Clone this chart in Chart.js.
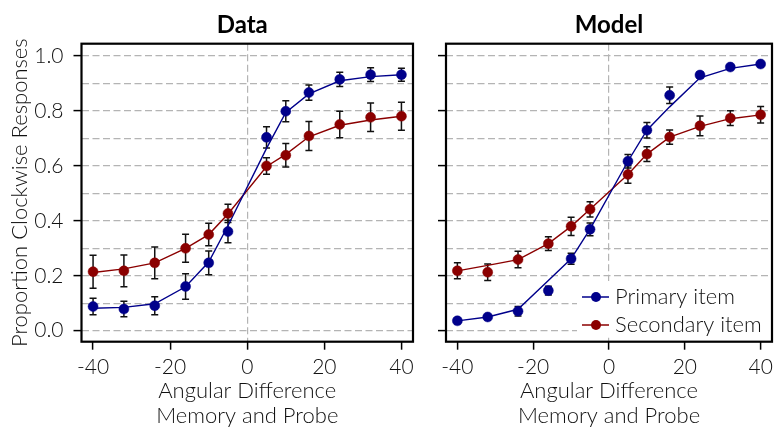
<!DOCTYPE html>
<html>
<head>
<meta charset="utf-8">
<script src="https://cdn.jsdelivr.net/npm/chart.js@4.4.1/dist/chart.umd.min.js"></script>
<style>
  body { margin: 0; background: #fff; }
  #wrap { position: relative; width: 778px; height: 435px; overflow: hidden; }
  #wrap canvas { position: absolute; top: 0; }
  #cData { left: 0; }
  #cModel { left: 420px; }
</style>
</head>
<body>
<div id="wrap">
  <canvas id="cData" width="420" height="435"></canvas>
  <canvas id="cModel" width="358" height="435"></canvas>
</div>
<script>
// angular difference between memory and probe (deg)
const angles = [-40, -32, -24, -16, -10, -5, 5, 10, 16, 24, 32, 40];
const xTicks = [-40, -20, 0, 20, 40];
const yTicks = [0, 0.1, 0.2, 0.3, 0.4, 0.5, 0.6, 0.7, 0.8, 0.9, 1.0];

// observed data
const dataPrimary = [0.088, 0.079, 0.091, 0.161, 0.247, 0.361, 0.704, 0.799, 0.867, 0.915, 0.932, 0.932];
const dataPrimaryErr = [0.030, 0.028, 0.033, 0.046, 0.043, 0.041, 0.039, 0.038, 0.028, 0.026, 0.025, 0.024];
const dataPrimaryFit = [0.082, 0.085, 0.098, 0.160, 0.250, 0.382, 0.664, 0.795, 0.862, 0.910, 0.925, 0.932];
const dataSecondary = [0.215, 0.218, 0.247, 0.300, 0.350, 0.427, 0.600, 0.639, 0.709, 0.751, 0.777, 0.781];
const dataSecondaryErr = [0.060, 0.058, 0.058, 0.051, 0.041, 0.033, 0.030, 0.043, 0.053, 0.048, 0.052, 0.051];
const dataSecondaryFit = [0.212, 0.225, 0.247, 0.300, 0.350, 0.425, 0.598, 0.642, 0.706, 0.748, 0.767, 0.781];

// model simulation
const modelPrimary = [0.036, 0.050, 0.071, 0.146, 0.262, 0.369, 0.617, 0.730, 0.857, 0.931, 0.960, 0.971];
const modelPrimaryErr = [0.005, 0.005, 0.017, 0.016, 0.020, 0.023, 0.025, 0.028, 0.030, 0.011, 0.008, 0.006];
const modelPrimaryFit = [0.036, 0.050, 0.078, 0.183, 0.262, 0.370, 0.617, 0.730, 0.815, 0.921, 0.955, 0.971];
const modelSecondary = [0.218, 0.213, 0.259, 0.317, 0.380, 0.442, 0.569, 0.643, 0.705, 0.746, 0.774, 0.786];
const modelSecondaryErr = [0.029, 0.030, 0.030, 0.025, 0.033, 0.028, 0.032, 0.027, 0.026, 0.036, 0.027, 0.030];
const modelSecondaryFit = [0.218, 0.238, 0.259, 0.317, 0.380, 0.442, 0.569, 0.643, 0.705, 0.744, 0.772, 0.786];

const seriesNames = ["Primary item", "Secondary item"];

const BLUE = "#00008b";
const RED = "#8b0000";
const GRID = "#b4b4b4";
const TEXT = "#111";
const FONT = "Lato";

function pts(ys) {
  return angles.map((x, i) => ({ x: x, y: ys[i] }));
}

// error bars, drawn under the markers
const errorBars = {
  id: "errorBars",
  beforeDatasetsDraw(chart) {
    const ctx = chart.ctx;
    const xs = chart.scales.x, ys = chart.scales.y;
    ctx.save();
    ctx.strokeStyle = "#111";
    ctx.lineWidth = 1.5;
    chart.data.datasets.forEach((ds) => {
      if (!ds.errors) return;
      ds.data.forEach((p, i) => {
        const e = ds.errors[i];
        const x = xs.getPixelForValue(p.x);
        const y1 = ys.getPixelForValue(p.y - e);
        const y2 = ys.getPixelForValue(p.y + e);
        ctx.beginPath();
        ctx.moveTo(x, y1); ctx.lineTo(x, y2);
        ctx.moveTo(x - 3.5, y1); ctx.lineTo(x + 3.5, y1);
        ctx.moveTo(x - 3.5, y2); ctx.lineTo(x + 3.5, y2);
        ctx.stroke();
      });
    });
    ctx.restore();
  },
};

// box round the plot + panel title
const frame = {
  id: "frame",
  afterDraw(chart, args, opts) {
    const { left, top, right, bottom } = chart.chartArea;
    const ctx = chart.ctx;
    ctx.save();
    ctx.strokeStyle = "#000";
    ctx.lineWidth = 2.2;
    ctx.strokeRect(left, top, right - left, bottom - top);
    ctx.fillStyle = "#000";
    ctx.font = "bold 24px " + FONT;
    ctx.textAlign = "center";
    ctx.textBaseline = "alphabetic";
    ctx.fillText(opts.text, (left + right) / 2 + (opts.shift || 0), 33);
    ctx.restore();
  },
};

// matplotlib-like legend: line with marker
const lineLegend = {
  id: "lineLegend",
  afterDatasetsDraw(chart, args, opts) {
    if (!opts.show) return;
    const ctx = chart.ctx;
    const ox = opts.x, oy = opts.y;
    ctx.save();
    ctx.fillStyle = "#fff";
    ctx.fillRect(ox, oy, 200, 56);
    [BLUE, RED].forEach((c, i) => {
      const cy = oy + 16 + i * 28;
      ctx.strokeStyle = c;
      ctx.lineWidth = 1.5;
      ctx.beginPath();
      ctx.moveTo(ox + 5, cy); ctx.lineTo(ox + 32, cy);
      ctx.stroke();
      ctx.fillStyle = c;
      ctx.beginPath();
      ctx.arc(ox + 19, cy, 5, 0, Math.PI * 2);
      ctx.fill();
      ctx.fillStyle = TEXT;
      ctx.font = "300 22px " + FONT;
      ctx.textAlign = "left";
      ctx.textBaseline = "middle";
      ctx.fillText(seriesNames[i], ox + 38, cy);
    });
    ctx.restore();
  },
};

function makeChart(id, p) {
  return new Chart(document.getElementById(id), {
    type: "line",
    data: {
      datasets: [
        { label: seriesNames[0], data: pts(p.primary), errors: p.primaryErr, showLine: false,
          pointRadius: 5, pointBackgroundColor: BLUE, pointBorderColor: BLUE, pointBorderWidth: 0.5 },
        { label: seriesNames[1], data: pts(p.secondary), errors: p.secondaryErr, showLine: false,
          pointRadius: 5, pointBackgroundColor: RED, pointBorderColor: RED, pointBorderWidth: 0.5 },
        { data: pts(p.primaryFit), borderColor: BLUE, borderWidth: 1.4, pointRadius: 0, tension: 0 },
        { data: pts(p.secondaryFit), borderColor: RED, borderWidth: 1.4, pointRadius: 0, tension: 0 },
      ],
    },
    options: {
      responsive: false,
      animation: false,
      events: [],
      layout: { padding: { top: 43.7, right: p.padRight, bottom: 0, left: 0 } },
      plugins: {
        legend: { display: false },
        tooltip: { enabled: false },
        frame: { text: p.title, shift: p.titleShift },
        lineLegend: { show: p.legend, x: 157, y: 281 },
      },
      scales: {
        x: {
          type: "linear",
          min: -43,
          max: 43,
          afterBuildTicks: (s) => { s.ticks = xTicks.map((v) => ({ value: v })); },
          afterFit: (s) => { s.height = 93.3; },
          grid: {
            color: (c) => (c.tick && c.tick.value === 0 ? GRID : "transparent"),
            lineWidth: 1.2,
            tickColor: "#000",
            tickWidth: 1.5,
            tickLength: 8,
          },
          border: { display: false, dash: [7, 3.5] },
          ticks: {
            color: TEXT,
            font: { family: FONT, size: 21, weight: 300 },
            padding: 5,
            maxRotation: 0,
            callback: (v) => String(v),
          },
          title: {
            display: true,
            text: ["Angular Difference", "Memory and Probe"],
            color: TEXT,
            font: { family: FONT, size: 22, weight: 300, lineHeight: 1.15 },
            padding: { top: 0, bottom: 6 },
          },
        },
        y: {
          min: -0.04,
          max: 1.045,
          afterBuildTicks: (s) => { s.ticks = yTicks.map((v) => ({ value: v })); },
          afterFit: (s) => { s.width = p.yWidth; },
          grid: {
            color: GRID,
            lineWidth: 1.2,
            tickColor: (c) => (c.index % 2 === 0 ? "#000" : "transparent"),
            tickWidth: 1.5,
            tickLength: 8,
          },
          border: { display: false, dash: [7, 3.5] },
          ticks: {
            color: TEXT,
            font: { family: FONT, size: 21, weight: 300 },
            padding: 10,
            callback: (v, i) => (p.yLabels && i % 2 === 0 ? v.toFixed(1) : ""),
          },
          title: {
            display: p.yLabels,
            text: "Proportion Clockwise Responses",
            color: TEXT,
            font: { family: FONT, size: 22, weight: 300, lineHeight: 1.15 },
            padding: { top: 7, bottom: 0 },
          },
        },
      },
    },
    plugins: [errorBars, frame, lineLegend],
  });
}

makeChart("cData", {
  title: "Data", titleShift: -5,
  primary: dataPrimary, primaryErr: dataPrimaryErr, primaryFit: dataPrimaryFit,
  secondary: dataSecondary, secondaryErr: dataSecondaryErr, secondaryFit: dataSecondaryFit,
  yLabels: true, yWidth: 81.5, padRight: 7, legend: false,
});

makeChart("cModel", {
  title: "Model", titleShift: 0,
  primary: modelPrimary, primaryErr: modelPrimaryErr, primaryFit: modelPrimaryFit,
  secondary: modelSecondary, secondaryErr: modelSecondaryErr, secondaryFit: modelSecondaryFit,
  yLabels: false, yWidth: 26, padRight: 1, legend: true,
});
</script>
</body>
</html>
